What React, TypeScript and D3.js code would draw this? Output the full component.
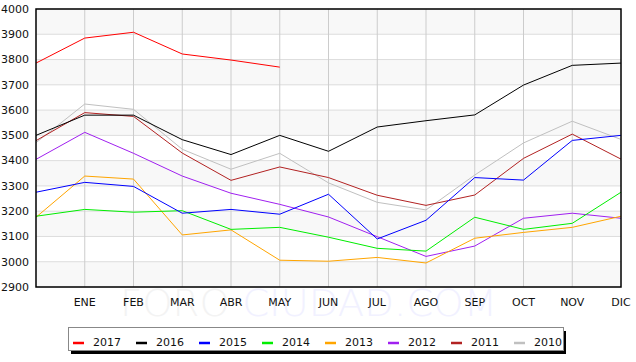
import React from "react";
import { scaleLinear, line, range } from "d3";

// x positions: index 0 is the previous December (no label), then the 12 months
const months = ["", "ENE", "FEB", "MAR", "ABR", "MAY", "JUN", "JUL", "AGO", "SEP", "OCT", "NOV", "DIC"];
const yTicks = [2900, 3000, 3100, 3200, 3300, 3400, 3500, 3600, 3700, 3800, 3900, 4000];

const v2017 = [3786, 3885, 3908, 3822, 3798, 3770];
const v2016 = [3500, 3580, 3580, 3483, 3424, 3500, 3437, 3533, 3558, 3581, 3699, 3777, 3786];
const v2015 = [3275, 3314, 3298, 3192, 3207, 3188, 3267, 3090, 3164, 3333, 3323, 3480, 3500];
const v2014 = [3180, 3207, 3196, 3202, 3128, 3136, 3097, 3053, 3042, 3176, 3128, 3152, 3275];
const v2013 = [3176, 3339, 3327, 3106, 3126, 3006, 3002, 3017, 2995, 3093, 3116, 3136, 3180];
const v2012 = [3405, 3512, 3429, 3339, 3271, 3227, 3177, 3099, 3021, 3062, 3172, 3192, 3172];
const v2011 = [3479, 3590, 3575, 3430, 3322, 3375, 3333, 3263, 3223, 3264, 3409, 3505, 3406];
const v2010 = [3471, 3624, 3603, 3445, 3366, 3429, 3312, 3235, 3205, 3343, 3470, 3556, 3484];

const series = [
  { name: "2017", color: "#ff0000", values: v2017 },
  { name: "2016", color: "#000000", values: v2016 },
  { name: "2015", color: "#0000ff", values: v2015 },
  { name: "2014", color: "#00ee00", values: v2014 },
  { name: "2013", color: "#ffa500", values: v2013 },
  { name: "2012", color: "#a020f0", values: v2012 },
  { name: "2011", color: "#b22222", values: v2011 },
  { name: "2010", color: "#c0c0c0", values: v2010 },
];

const W = 636;
const H = 362;
const left = 36;
const right = 621;
const top = 9;
const bottom = 287;
const font = "'DejaVu Sans', sans-serif";

export default function App() {
  const x = scaleLinear().domain([0, months.length - 1]).range([left, right]);
  const y = scaleLinear().domain([2900, 4000]).range([bottom, top]);

  const path = line<number>()
    .x((_, i) => x(i))
    .y((d) => y(d));

  // alternating bands, starting with the lowest one shaded
  const bands = range(0, yTicks.length - 1).filter((i) => i % 2 === 0);

  return (
    <div style={{ position: "absolute", left: 0, top: 0 }}>
      <svg width={W} height={H} style={{ display: "block", background: "#fff" }}>
        {bands.map((i) => (
          <rect
            key={"b" + i}
            x={left}
            y={y(yTicks[i + 1])}
            width={right - left}
            height={y(yTicks[i]) - y(yTicks[i + 1])}
            fill="#f8f8f8"
          />
        ))}
        {yTicks.map((t) => (
          <line key={"h" + t} x1={left} x2={right} y1={y(t)} y2={y(t)} stroke="#dddddd" />
        ))}
        {months.map((m, i) =>
          i > 0 && i < months.length - 1 ? (
            <line key={"v" + i} x1={x(i)} x2={x(i)} y1={top} y2={bottom} stroke="#cccccc" />
          ) : null
        )}

        {/* watermark */}
        <text
          x={120}
          y={316}
          fontFamily="'DejaVu Sans ExtraLight', 'DejaVu Sans', sans-serif"
          fontWeight={200}
          fontSize={38}
          fill="#f3f3f3"
          textLength={377}
          lengthAdjust="spacingAndGlyphs"
        >
          FORO <tspan fill="#f1f1ff">CIUDAD.COM</tspan>
        </text>

        {[...series].reverse().map((s) => (
          <path key={s.name} d={path(s.values) || ""} fill="none" stroke={s.color} strokeWidth={1} />
        ))}

        <rect x={left} y={top} width={right - left} height={bottom - top} fill="none" stroke="#000" strokeWidth={1.5} />

        {yTicks.map((t) => (
          <text key={"yl" + t} x={29} y={y(t)} dy="0.35em" textAnchor="end" fontFamily={font} fontSize={11} fill="#111">
            {t}
          </text>
        ))}
        {months.map((m, i) => (
          <text key={"xl" + i} x={x(i)} y={306} textAnchor="middle" fontFamily={font} fontSize={11} fill="#111">
            {m}
          </text>
        ))}

        {/* legend */}
        <rect x={71} y={331} width={495} height={23} fill="#000" />
        <rect x={68.5} y={327.5} width={495} height={23} fill="#fff" stroke="#888" />
        {series.map((s, i) => (
          <g key={"lg" + s.name} transform={`translate(${73 + i * 63},0)`}>
            <line x1={0} x2={11} y1={343} y2={343} stroke={s.color} strokeWidth={2.5} />
            <text x={20} y={346} fontFamily={font} fontSize={11} fill="#111">
              {s.name}
            </text>
          </g>
        ))}
      </svg>
    </div>
  );
}
